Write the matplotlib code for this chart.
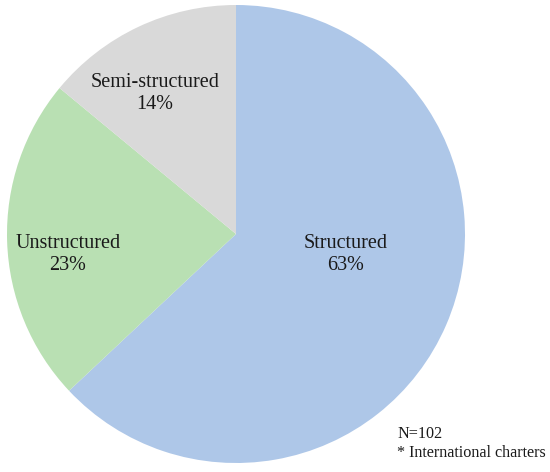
import matplotlib
matplotlib.use("Agg")
import matplotlib.pyplot as plt

# data
categories = ["Structured", "Unstructured", "Semi-structured"]
shares = [63, 23, 14]
colors = ["#aec7e8", "#b9e0b3", "#d9d9d9"]
note_lines = ["N=102", "* International charters"]

plt.rcParams['font.family'] = ['Liberation Serif', 'DejaVu Serif']

W, H = 550, 472
fig = plt.figure(figsize=(W / 100, H / 100), dpi=100)

# pie centre and radius in pixels
cx, cy, r = 236, 234, 229
ax = fig.add_axes([(cx - r) / W, (H - cy - r) / H, 2 * r / W, 2 * r / H])
ax.pie(shares, colors=colors, startangle=90, counterclock=False, radius=1,
       wedgeprops=dict(linewidth=0))
ax.set_xlim(-1, 1)
ax.set_ylim(-1, 1)
ax.set_aspect('equal')
ax.axis('off')

# label positions (axes data units)
label_pos = [(0.480, -0.090), (-0.734, -0.090), (-0.354, 0.614)]
for name, val, (x, y) in zip(categories, shares, label_pos):
    ax.text(x, y, f"{name}\n{val}%", ha='center', va='center',
            fontsize=14.5, color='#1a1a1a', linespacing=1.25)

fig.text(397 / W, 1 - 443.5 / H, "\n".join(note_lines), ha='left', va='center',
         fontsize=11.6, color='#1a1a1a', linespacing=1.18)

fig.savefig("out.png", dpi=100)
